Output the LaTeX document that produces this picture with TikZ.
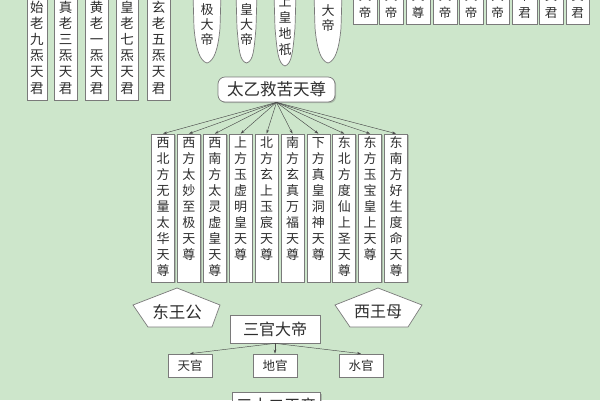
\documentclass[tikz,border=0pt]{standalone}
\usepackage{fontspec}
\newfontfamily\cjk{Noto Sans CJK SC}
\usetikzlibrary{shadows,arrows.meta}
\definecolor{bg}{HTML}{CDE6CB}
\definecolor{edge}{HTML}{7A7A7A}
\definecolor{ink}{HTML}{2E2E2E}
\definecolor{wire}{HTML}{4A4A4A}
\tikzset{
  boxst/.style={draw=edge, fill=white, line width=0.7pt, inner sep=0pt,
    drop shadow={shadow xshift=1.2pt, shadow yshift=-1.2pt, opacity=0.35, fill=black!60}},
  hbox/.style={boxst, text=ink},
  chr/.style={inner sep=0pt, text=ink, anchor=base},
  spind/.style={draw=edge, fill=white, line width=0.7pt},
  pent/.style={draw=edge, fill=white, line width=0.7pt},
  fanline/.style={draw=wire, line width=0.45pt, -{Stealth[length=4pt,width=2.6pt]}},
}
% box from corners: name, x1, y1, x2, y2
\newcommand\rbox[5]{\node[boxst, minimum width={#4-#2}, minimum height={#5-#3}] (#1) at ({(#2+#4)/2},{(#3+#5)/2}) {};}
% vertical characters: name, x, y of first centre, pitch, size, list
\newcommand\vchars[6]{\edef\myvlist{#6}\foreach \c [count=\i from 0] in \myvlist
  \node[chr, font=\cjk\fontsize{#5}{#5}\selectfont] (#1-\i) at ({#2}, {#3+#4*\i+0.37*#5}) {\c};}
% spindle: name, xl, xr, ybottom
\newcommand\spindle[4]{\path[spind] (#2,-6) -- ({#2+1},28)
  .. controls ({#2+3},50) and ({(#2+#3)/2-7},{#4-2}) .. ({(#2+#3)/2},#4)
  .. controls ({(#2+#3)/2+7},{#4-2}) and ({#3-3},50) .. ({#3-1},28) -- (#3,-6) -- cycle;
  \coordinate (#1) at ({(#2+#3)/2},#4);}
\begin{document}
\begin{tikzpicture}[x=1pt,y=-1pt]
\useasboundingbox (0,0) rectangle (600,400);
\clip (0,0) rectangle (600,400);
\fill[bg] (0,0) rectangle (600,400);

% five tall boxes, top left
\rbox{L1}{27}{-6}{47}{100}
\rbox{L2}{54}{-6}{77}{100}
\rbox{L3}{85}{-6}{108}{100}
\rbox{L4}{116}{-6}{138}{100}
\rbox{L5}{147}{-6}{170}{100}
\vchars{L1c}{37}{8}{16}{13.5}{始,老,九,炁,天,君}
\vchars{L2c}{65.5}{8}{16}{13.5}{真,老,三,炁,天,君}
\vchars{L3c}{96.5}{8}{16}{13.5}{黄,老,一,炁,天,君}
\vchars{L4c}{127}{8}{16}{13.5}{皇,老,七,炁,天,君}
\vchars{L5c}{158.5}{8}{16}{13.5}{玄,老,五,炁,天,君}

% spindle shapes
\spindle{S1}{193}{221}{63}
\spindle{S2}{236}{257}{63}
\spindle{S3}{274}{296}{66}
\spindle{S4}{314}{342}{63}
\vchars{S1c}{207}{10}{15}{13}{极,大,帝}
\vchars{S2c}{246.5}{10}{15}{13}{皇,大,帝}
\vchars{S3c}{285}{2}{16}{13}{上,皇,地,祇}
\vchars{S4c}{328}{11}{15}{13}{大,帝}

% nine small boxes, top right
\foreach \xa/\xb/\ta/\tb [count=\k] in {353/377/大/帝, 379/403/大/帝, 406/430/天/尊,
   433/457/大/帝, 459/483/大/帝, 486/509/大/帝, 512/537/帝/君, 539/563/真/君, 566/589/真/君}{
  \pgfmathsetmacro\cx{(\xa+\xb)/2}
  \rbox{R\k}{\xa}{-6}{\xb}{24}
  \vchars{R\k c}{\cx}{-4}{17}{12.5}{\ta,\tb}
}

% Taiyi
\node[hbox, rounded corners=7pt, minimum width=117, minimum height=25,
  font=\cjk\fontsize{16.5}{16.5}\selectfont] (ty) at (276.5,89.5) {太乙救苦天尊};

% ten boxes
\foreach \t [count=\k] in {
  {西,北,方,无,量,太,华,天,尊},
  {西,方,太,妙,至,极,天,尊},
  {西,南,方,太,灵,虚,皇,天,尊},
  {上,方,玉,虚,明,皇,天,尊},
  {北,方,玄,上,玉,宸,天,尊},
  {南,方,玄,真,万,福,天,尊},
  {下,方,真,皇,洞,神,天,尊},
  {东,北,方,度,仙,上,圣,天,尊},
  {东,方,玉,宝,皇,上,天,尊},
  {东,南,方,好,生,度,命,天,尊}}{
  \pgfmathsetmacro\cx{163+25.9*(\k-1)}
  \pgfmathsetmacro\xa{\cx-11.5}
  \pgfmathsetmacro\xb{\cx+11.5}
  \rbox{T\k}{\xa}{134}{\xb}{282}
  \vchars{T\k c}{\cx}{143}{16}{13}{\t}
  \draw[fanline] (ty.south) -- (T\k.north);
}

% pentagons
\path[pent] (133,305) -- (177,288) -- (220,305) -- (212,327) -- (148,327) -- cycle;
\node[chr, anchor=center, font=\cjk\fontsize{16.5}{16.5}\selectfont] (dwg) at (177,312) {东王公};
\path[pent] (335,305) -- (378,288) -- (422,305) -- (408,327) -- (350,327) -- cycle;
\node[chr, anchor=center, font=\cjk\fontsize{16}{16}\selectfont] (xwm) at (378,312) {西王母};

% Sanguan
\node[hbox, minimum width=90, minimum height=28,
  font=\cjk\fontsize{16}{16}\selectfont] (sg) at (275,329) {三官大帝};
\node[hbox, minimum width=44, minimum height=23,
  font=\cjk\fontsize{12.5}{12.5}\selectfont] (tg) at (190,365.5) {天官};
\node[hbox, minimum width=44, minimum height=23,
  font=\cjk\fontsize{12.5}{12.5}\selectfont] (dg) at (275,365.5) {地官};
\node[hbox, minimum width=44, minimum height=23,
  font=\cjk\fontsize{12.5}{12.5}\selectfont] (sgw) at (361,365.5) {水官};
\draw[fanline] (sg.south) -- (tg.north);
\draw[fanline] (sg.south) -- (dg.north);
\draw[fanline] (sg.south) -- (sgw.north);

% bottom box (cut)
\node[hbox, anchor=north west, minimum width=88, minimum height=26,
  font=\cjk\fontsize{16}{16}\selectfont] (sse) at (232,392) {三十二天帝};
\end{tikzpicture}
\end{document}
